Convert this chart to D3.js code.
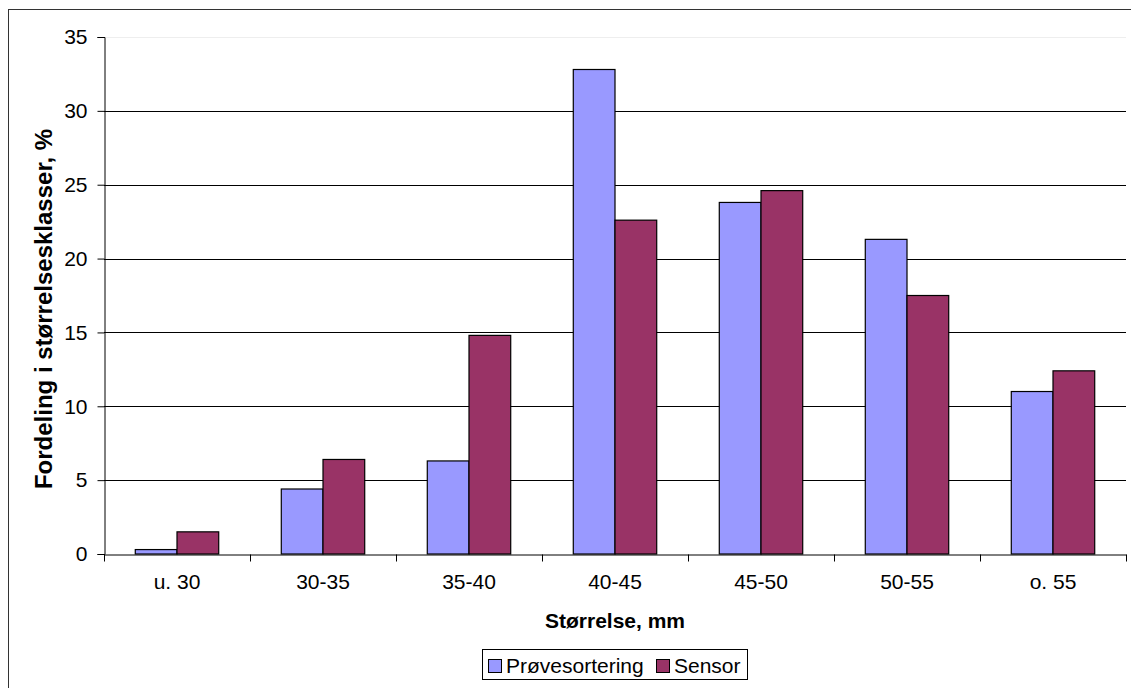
<!DOCTYPE html>
<html>
<head>
<meta charset="utf-8">
<script src="https://cdn.jsdelivr.net/npm/d3@7"></script>
<style>
  html, body { margin: 0; padding: 0; background: #fff; }
  svg { display: block; font-family: "Liberation Sans", Arial, sans-serif; }
</style>
</head>
<body>
<svg id="chart" width="1131" height="688"></svg>
<script>
// Size classes and distribution (%) per method
const categories = ["u. 30", "30-35", "35-40", "40-45", "45-50", "50-55", "o. 55"];
const seriesNames = ["Prøvesortering", "Sensor"];
const provesortering = [0.3, 4.4, 6.3, 32.8, 23.8, 21.3, 11.0];
const sensor = [1.5, 6.4, 14.8, 22.6, 24.6, 17.5, 12.4];
const yTicks = [0, 5, 10, 15, 20, 25, 30, 35];
const colors = ["#9999FF", "#993366"];

const svg = d3.select("#chart");
const W = 1131, H = 688;
const plot = { left: 104, right: 1126, top: 37, bottom: 554 };
const FONT = "Liberation Sans, Arial, sans-serif";

// outer chart frame
svg.append("rect")
  .attr("x", 8.5).attr("y", 9.5)
  .attr("width", W + 10).attr("height", H + 10)
  .attr("fill", "none").attr("stroke", "#333").attr("stroke-width", 1);

const x0 = d3.scaleBand().domain(categories).range([plot.left, plot.right]).paddingInner(0).paddingOuter(0);
const groupW = x0.bandwidth() * 2 / 3.5;
const x1 = d3.scaleBand().domain(seriesNames).range([0, groupW]).padding(0);
const y = d3.scaleLinear().domain([0, 35]).range([plot.bottom, plot.top]);

// gridlines
svg.append("g").selectAll("line").data(yTicks.filter(d => d > 0)).join("line")
  .attr("x1", plot.left).attr("x2", plot.right)
  .attr("y1", d => Math.round(y(d)) + 0.5).attr("y2", d => Math.round(y(d)) + 0.5)
  .attr("stroke", d => d === 35 ? "#eeeeee" : "#000")
  .attr("stroke-width", 1);

// bars
const data = categories.map((c, i) => ({ cat: c, vals: [provesortering[i], sensor[i]] }));
const groups = svg.append("g").selectAll("g").data(data).join("g")
  .attr("transform", d => `translate(${x0(d.cat) + (x0.bandwidth() - groupW) / 2},0)`);
groups.selectAll("rect").data(d => d.vals.map((v, k) => ({ v, k }))).join("rect")
  .attr("x", d => x1(seriesNames[d.k]))
  .attr("y", d => y(d.v))
  .attr("width", x1.bandwidth())
  .attr("height", d => y(0) - y(d.v))
  .attr("fill", d => colors[d.k])
  .attr("stroke", "#000").attr("stroke-width", 1.2);

// y axis
const yAxis = d3.axisLeft(y).tickValues(yTicks).tickSize(7).tickPadding(10).tickFormat(d3.format("d"));
const gy = svg.append("g").attr("transform", `translate(${plot.left + 0.5},0)`).call(yAxis);
gy.select(".domain").attr("stroke", "#000");
gy.selectAll(".tick line").attr("stroke", "#000");
gy.selectAll("text").attr("font-size", 21).attr("fill", "#000").attr("font-family", FONT);

// x axis with ticks at category boundaries
const xAxis = d3.axisBottom(x0).tickSize(0).tickPadding(20);
const gx = svg.append("g").attr("transform", `translate(0,${plot.bottom + 0.5})`).call(xAxis);
gx.select(".domain").attr("stroke", "#000");
gx.selectAll("text").attr("font-size", 21).attr("fill", "#000").attr("font-family", FONT);
const bounds = categories.map(c => x0(c)).concat([plot.right]);
gx.selectAll(".bound").data(bounds).join("line").attr("class", "bound")
  .attr("x1", d => Math.round(d) + 0.5).attr("x2", d => Math.round(d) + 0.5)
  .attr("y1", 0).attr("y2", 7).attr("stroke", "#000");

// axis titles
svg.append("text")
  .attr("x", (plot.left + plot.right) / 2).attr("y", 628)
  .attr("text-anchor", "middle").attr("font-size", 21).attr("font-weight", "bold")
  .text("Størrelse, mm");
svg.append("text")
  .attr("transform", `translate(52,309) rotate(-90)`)
  .attr("text-anchor", "middle").attr("font-size", 24).attr("font-weight", "bold")
  .text("Fordeling i størrelsesklasser, %");

// legend
const lg = svg.append("g").attr("transform", "translate(482,649)");
lg.append("rect").attr("x", 0.5).attr("y", 0.5).attr("width", 265).attr("height", 30)
  .attr("fill", "#fff").attr("stroke", "#000");
const items = [{ name: seriesNames[0], x: 6 }, { name: seriesNames[1], x: 174 }];
items.forEach((it, k) => {
  lg.append("rect").attr("x", it.x + 0.5).attr("y", 10.5).attr("width", 13).attr("height", 13)
    .attr("fill", colors[k]).attr("stroke", "#000");
  lg.append("text").attr("x", it.x + 18).attr("y", 24).attr("font-size", 21).text(it.name);
});
</script>
</body>
</html>
